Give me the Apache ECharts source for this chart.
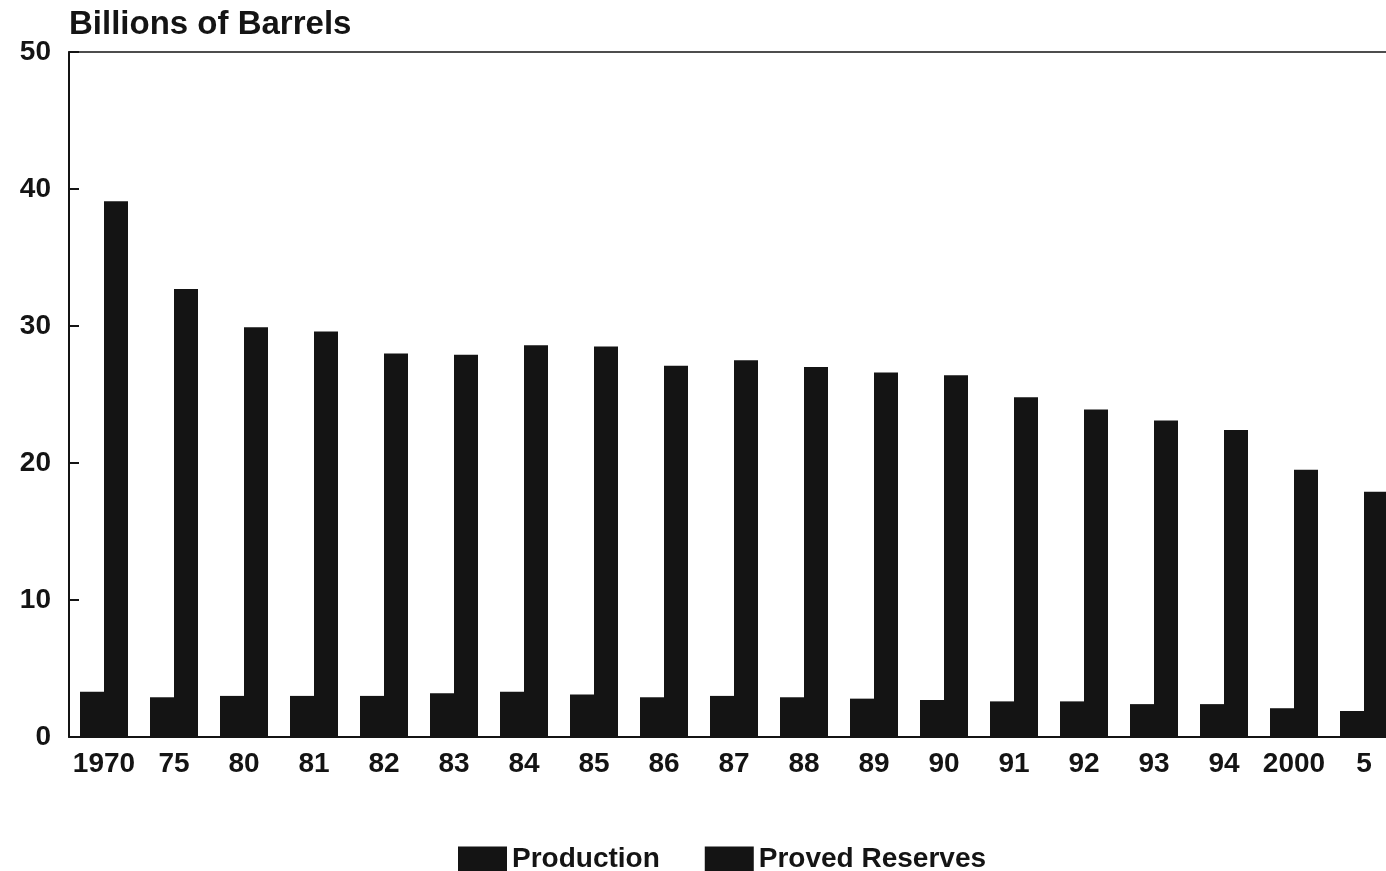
<!DOCTYPE html>
<html>
<head>
<meta charset="utf-8">
<script src="https://cdn.jsdelivr.net/npm/echarts@6/dist/echarts.min.js"></script>
<style>
html,body{margin:0;padding:0;background:#fff;}
#chart{width:1386px;height:871px;}
</style>
</head>
<body>
<div id="chart"></div>
<script>
var categories = ['1970','75','80','81','82','83','84','85','86','87','88','89','90','91','92','93','94','2000','5'];
var production = [3.3, 2.9, 3.0, 3.0, 3.0, 3.2, 3.3, 3.1, 2.9, 3.0, 2.9, 2.8, 2.7, 2.6, 2.6, 2.4, 2.4, 2.1, 1.9];
var provedReserves = [39.1, 32.7, 29.9, 29.6, 28.0, 27.9, 28.6, 28.5, 27.1, 27.5, 27.0, 26.6, 26.4, 24.8, 23.9, 23.1, 22.4, 19.5, 17.9];
var yTicks = [0, 10, 20, 30, 40, 50];

var FONT = '"Liberation Sans", Arial, sans-serif';
var INK = '#141414';

var chart = echarts.init(document.getElementById('chart'), null, {renderer: 'canvas'});
chart.setOption({
  backgroundColor: '#ffffff',
  animation: false,
  title: {
    text: 'Billions of Barrels',
    left: 64, top: 3,
    textStyle: {fontFamily: FONT, fontWeight: 'bold', fontSize: 33, color: INK}
  },
  legend: {
    left: 453, top: 840,
    itemWidth: 49, itemHeight: 25, itemGap: 45,
    icon: 'rect',
    textStyle: {fontFamily: FONT, fontWeight: 'bold', fontSize: 28, color: INK},
    data: ['Production', 'Proved Reserves']
  },
  grid: {left: 69, top: 52, width: 1330, height: 685, containLabel: false, outerBoundsMode: 'none'},
  xAxis: [{
    type: 'category',
    data: categories,
    axisLine: {show: true, lineStyle: {color: INK, width: 2}},
    axisTick: {show: false},
    axisLabel: {margin: 13, fontFamily: FONT, fontWeight: 'bold', fontSize: 28, color: INK, interval: 0}
  }, {
    type: 'category',
    position: 'top',
    data: categories,
    axisLine: {show: true, lineStyle: {color: INK, width: 1.5}},
    axisTick: {show: false},
    axisLabel: {show: false}
  }],
  yAxis: {
    type: 'value',
    min: 0, max: 50, interval: 10,
    axisLine: {show: true, lineStyle: {color: INK, width: 2}},
    axisTick: {show: true, inside: true, length: 10, lineStyle: {color: INK, width: 2}},
    splitLine: {show: false},
    axisLabel: {
      margin: 18, fontFamily: FONT, fontWeight: 'bold', fontSize: 28, color: INK,
      formatter: function (v) { return yTicks.indexOf(v) >= 0 ? String(v) : ''; }
    }
  },
  series: [{
    name: 'Production',
    type: 'bar',
    data: production,
    barWidth: 24,
    barGap: '0%',
    itemStyle: {color: INK}
  }, {
    name: 'Proved Reserves',
    type: 'bar',
    data: provedReserves,
    barWidth: 24,
    barGap: '0%',
    itemStyle: {color: INK}
  }]
});
</script>
</body>
</html>
